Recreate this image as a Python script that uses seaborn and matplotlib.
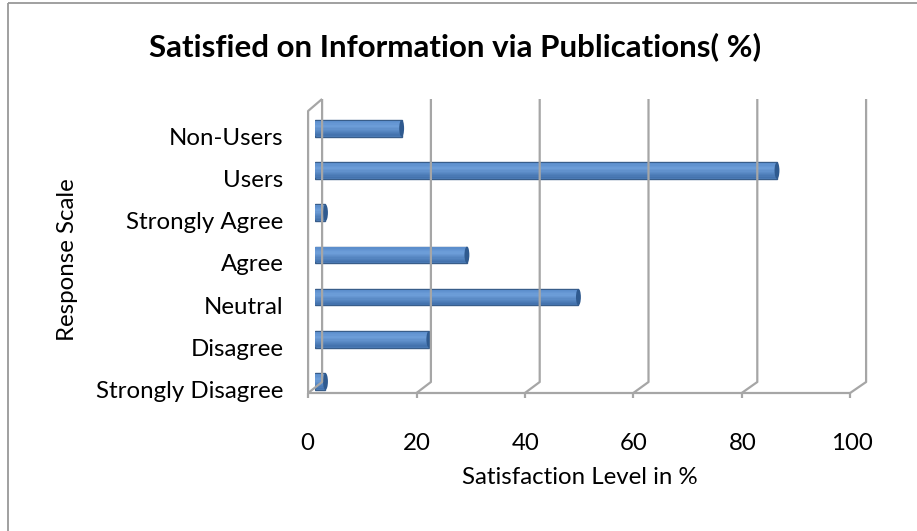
import matplotlib
matplotlib.use("Agg")
import matplotlib.pyplot as plt
import matplotlib.transforms as mtransforms
from matplotlib.lines import Line2D
import matplotlib.colors as mcolors
import numpy as np
import seaborn as sns
import pandas as pd

categories = ["Non-Users", "Users", "Strongly Agree", "Agree", "Neutral", "Disagree", "Strongly Disagree"]
values = [16, 85, 2, 28, 48.5, 21, 2]
x_ticks = [0, 20, 40, 60, 80, 100]
title = "Satisfied on Information via Publications( %)"
x_label = "Satisfaction Level in %"
y_label = "Response Scale"

df = pd.DataFrame({"category": categories, "value": values})

sns.set_theme(style="white")
FONT = "Lato"
plt.rcParams["font.family"] = [FONT, "DejaVu Sans"]

W, H = 917, 531
DPI = 100
fig = plt.figure(figsize=(W / DPI, H / DPI), dpi=DPI)
fig.patch.set_facecolor("white")

def fx(px):
    return px / W

def fy(py):
    return 1 - py / H

LS = 17.3

left_px, right_px = 314.6, 858.6
top_px, bot_px = 107.2, 402.6
ax = fig.add_axes([fx(left_px), fy(bot_px), (right_px - left_px) / W, (bot_px - top_px) / H])
ax.patch.set_alpha(0)

sns.barplot(data=df, x="value", y="category", orient="h", ax=ax, width=0.39,
            color="#4F81BD", edgecolor="#385D8A", linewidth=1.0, saturation=1, zorder=3)
ax.set_xlim(0, 100)
ax.set_ylim(len(categories) - 0.5, -0.5)
ax.set_xticks(x_ticks)
ax.set_xticklabels([str(t) for t in x_ticks])
for s in ax.spines.values():
    s.set_visible(False)
ax.set_xlabel("")
ax.set_ylabel("")
ax.tick_params(axis="y", length=0, pad=22.5, labelsize=LS, labelcolor="black")
ax.tick_params(axis="x", length=0, pad=22, labelsize=LS, labelcolor="black")
ax.grid(False)

for lab in ax.get_yticklabels():
    lab.set_transform(lab.get_transform() + mtransforms.ScaledTranslation(0, -8 / DPI, fig.dpi_scale_trans))
for lab in ax.get_xticklabels():
    lab.set_transform(lab.get_transform() + mtransforms.ScaledTranslation(-7 / DPI, 0, fig.dpi_scale_trans))

# cylinder-like shading over each bar (overlapping gradient bands)
c_top = np.array(mcolors.to_rgb("#5A8CCA"))
c_hi = np.array(mcolors.to_rgb("#6E9FDA"))
c_bot = np.array(mcolors.to_rgb("#4170AB"))
nb = 12
for p in list(ax.patches):
    x0, y0 = p.get_x(), p.get_y()
    w, h = p.get_width(), p.get_height()
    inner = h * 0.9
    start = y0 + h * 0.05
    for k in range(nb):
        f = (k + 0.5) / nb
        if f < 0.35:
            c = c_top + (c_hi - c_top) * (f / 0.35)
        else:
            c = c_hi + (c_bot - c_hi) * ((f - 0.35) / 0.65)
        yk = start + inner * k / nb
        hk = inner / nb * (1.6 if k < nb - 1 else 1.0)
        ax.add_patch(plt.Rectangle((x0 + 0.15, yk), max(w - 0.3, 0), hk,
                                   facecolor=c, edgecolor="none", antialiased=False, zorder=4 + k * 0.01))
    ax.add_patch(matplotlib.patches.Ellipse((x0 + w, y0 + h / 2), 0.9, h,
                                            facecolor="#2F5A8F", edgecolor="none", zorder=5))

fig.canvas.draw()

grid_col = "#A6A6A6"
def img_line(xs, ys, **kw):
    pts_x = list(xs)
    pts_y = [H - y for y in ys]
    fig.add_artist(Line2D(pts_x, pts_y, transform=mtransforms.IdentityTransform(),
                          color=kw.get("color", grid_col), linewidth=kw.get("lw", 1.6),
                          solid_capstyle="butt", zorder=kw.get("zorder", 1)))

def mid_px(v):
    return ax.transData.transform((v, 0))[0]

back_top, back_bot, front_bot = 99, 382, 393
for t in x_ticks:
    xm = mid_px(t)
    xb = xm + 7.5
    xf = xm - 6.5 - 0.02 * t
    img_line([xb, xb, xf], [back_top, back_bot, front_bot])
    img_line([xf, xf], [front_bot, front_bot + 4.5])

img_line([mid_px(0) - 6.5, mid_px(100) - 8.5], [front_bot, front_bot])
x_front0 = mid_px(0) - 6.5
x_back0 = mid_px(0) + 7.5
img_line([x_front0, x_front0, x_back0], [front_bot, 111, back_top])

img_line([8, W], [3, 3], color="#999999", lw=1.3)
img_line([8, 8], [3, H], color="#999999", lw=1.3)

fig.text(fx(455), fy(47), title, ha="center", va="center", fontsize=22.5,
         fontweight="bold", color="black")
fig.text(fx(580), fy(478), x_label, ha="center", va="center", fontsize=LS, color="black")
fig.text(fx(68), fy(260), y_label, ha="center", va="center", rotation=90,
         fontsize=LS, color="black")

fig.savefig("out.png", dpi=DPI, facecolor="white")
